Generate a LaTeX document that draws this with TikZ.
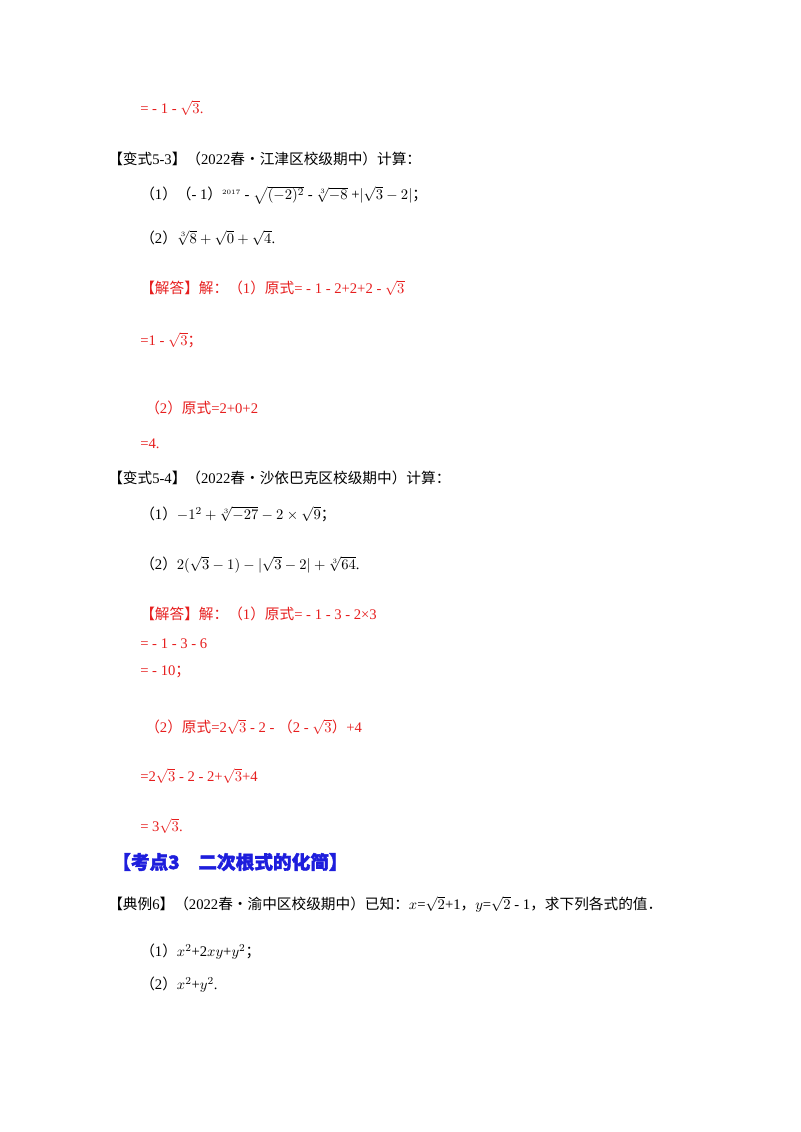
\documentclass[tikz,border=0pt]{standalone}
\usepackage{fontspec}
\usepackage{amsmath}
\setmainfont{Liberation Serif}
\newfontfamily\cjk{Noto Sans CJK SC}
\newfontfamily\cjkb[FakeBold=2]{Noto Sans CJK SC}
\newcommand{\zh}[1]{{\cjk #1}}
\definecolor{ansred}{RGB}{230,30,30}
\definecolor{headblue}{RGB}{30,30,220}
\tikzset{ln/.style={anchor=west,inner sep=0pt,font=\fontsize{11pt}{13pt}\selectfont},
red/.style={ln,text=ansred}}
\begin{document}
\begin{tikzpicture}[x=0.75pt,y=-0.75pt]
\useasboundingbox (0,0) rectangle (800,1132);
\node[red] (l1) at (140,108) {= - 1 - $\sqrt{3}$.};
\node[ln] (l2) at (108,159) {\zh{【变式}5-3\zh{】（}2022\zh{春•江津区校级期中）计算：}};
\node[ln] (l3) at (140,195) {\zh{（}1\zh{）（}- 1\zh{）}$^{\scriptscriptstyle 2017}$ - $\sqrt{(-2)^2}$ - $\sqrt[3]{-8}$ +$|\sqrt{3}-2|$\zh{；}};
\node[ln] (l4) at (140,238) {\zh{（}2\zh{）}$\sqrt[3]{8}+\sqrt{0}+\sqrt{4}$.};
\node[red] (l5) at (140,288) {\zh{【解答】解：（}1\zh{）原式}= - 1 - 2+2+2 - $\sqrt{3}$};
\node[red] (l6) at (140,340) {=1 - $\sqrt{3}$\zh{；}};
\node[red] (l7) at (145,408) {\zh{（}2\zh{）原式}=2+0+2};
\node[red] (l8) at (140,444) {=4.};
\node[ln] (l9) at (108,478) {\zh{【变式}5-4\zh{】（}2022\zh{春•沙依巴克区校级期中）计算：}};
\node[ln] (l10) at (140,514) {\zh{（}1\zh{）}$-1^2+\sqrt[3]{-27}-2\times\sqrt{9}$\zh{；}};
\node[ln] (l11) at (140,565) {\zh{（}2\zh{）}$2(\sqrt{3}-1)-|\sqrt{3}-2|+\sqrt[3]{64}$.};
\node[red] (l12) at (140,614) {\zh{【解答】解：（}1\zh{）原式}= - 1 - 3 - 2×3};
\node[red] (l13) at (140,644) {= - 1 - 3 - 6};
\node[red] (l14) at (140,672) {= - 10\zh{；}};
\node[red] (l15) at (145,727) {\zh{（}2\zh{）原式}=2$\sqrt{3}$ - 2 - \zh{（}2 - $\sqrt{3}$\zh{）}+4};
\node[red] (l16) at (140,776) {=2$\sqrt{3}$ - 2 - 2+$\sqrt{3}$+4};
\node[red] (l17) at (140,826) {= 3$\sqrt{3}$.};
\node[ln,text=headblue,font=\fontsize{14pt}{16pt}\selectfont\bfseries] (h) at (112,862) {\cjkb【考点3\quad 二次根式的化简】};
\node[ln] (l18) at (108,904) {\zh{【典例}6\zh{】（}2022\zh{春•渝中区校级期中）已知：}$x$=$\sqrt{2}$+1\zh{，}$y$=$\sqrt{2}$ - 1\zh{，求下列各式的值．}};
\node[ln] (l19) at (140,952) {\zh{（}1\zh{）}$x^2$+2$xy$+$y^2$\zh{；}};
\node[ln] (l20) at (140,985) {\zh{（}2\zh{）}$x^2$+$y^2$.};
\end{tikzpicture}
\end{document}
